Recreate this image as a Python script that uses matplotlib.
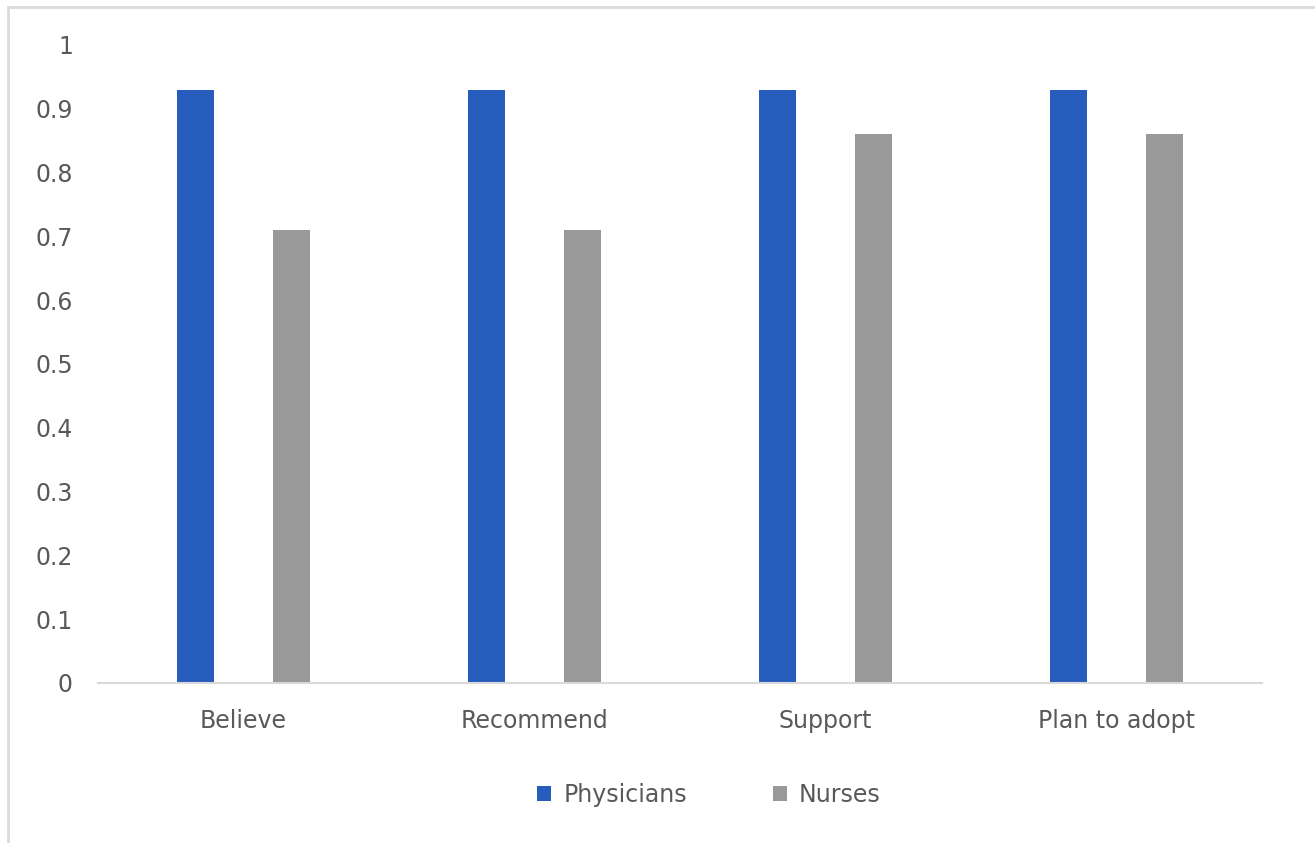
import matplotlib.pyplot as plt
import numpy as np
from matplotlib.patches import Rectangle

# data
categories = ["Believe", "Recommend", "Support", "Plan to adopt"]
physicians = [0.93, 0.93, 0.93, 0.93]
nurses = [0.71, 0.71, 0.86, 0.86]
yticks = [0, 0.1, 0.2, 0.3, 0.4, 0.5, 0.6, 0.7, 0.8, 0.9, 1]
ytick_labels = ["0", "0.1", "0.2", "0.3", "0.4", "0.5", "0.6", "0.7", "0.8", "0.9", "1"]

plt.rcParams['font.family'] = ['DejaVu Sans']
txt = '#595959'

fig = plt.figure(figsize=(13.15, 8.43), dpi=100)
ax = fig.add_axes([98/1315, 1 - 683/843, (1262-98)/1315, (683-45)/843])

# chart border (left and top edges visible in the screenshot)
fig.patches.append(Rectangle((8/1315, -0.1), 1.2, 1 - 7/843 + 0.1, transform=fig.transFigure,
                             fill=False, edgecolor='#dadada', linewidth=2))

x = np.arange(len(categories))
w = 0.13
off = 0.165
ax.bar(x - off, physicians, w, color='#265cbb', label='Physicians')
ax.bar(x + off, nurses, w, color='#999999', label='Nurses')

ax.set_xlim(-0.5, len(categories) - 0.5)
ax.set_ylim(0, 1)
ax.set_yticks(yticks)
ax.set_yticklabels(ytick_labels)
ax.set_xticks(x)
ax.set_xticklabels(categories)
ax.tick_params(axis='both', length=0, labelsize=17, colors=txt)
ax.tick_params(axis='y', pad=18)
ax.tick_params(axis='x', pad=19)

for s in ['top', 'right', 'left']:
    ax.spines[s].set_visible(False)
ax.spines['bottom'].set_color('#d9d9d9')
ax.spines['bottom'].set_linewidth(1.5)

leg = fig.legend(loc='center', bbox_to_anchor=(709/1315, 1 - 795/843), ncol=2, frameon=False,
                 fontsize=17, handlelength=0.6, handleheight=0.6, handletextpad=0.5,
                 columnspacing=3.65)
for t in leg.get_texts():
    t.set_color(txt)

fig.savefig('out.png', dpi=100)
